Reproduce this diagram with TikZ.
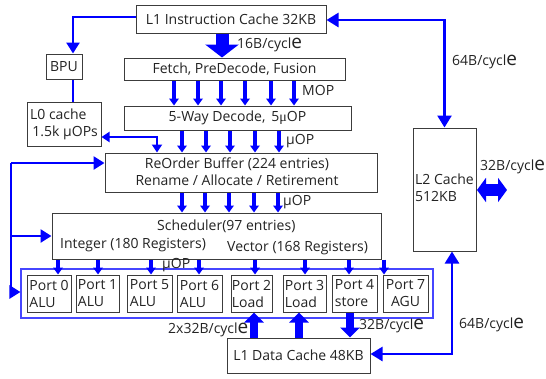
\documentclass[tikz,border=0pt]{standalone}
\usepackage{fontspec}
\setmainfont{Open Sans}
\newfontfamily\greekserif{Liberation Serif}
\usetikzlibrary{arrows.meta}
\definecolor{flowblue}{RGB}{0,0,255}
\definecolor{groupblue}{RGB}{70,70,255}
\definecolor{edge}{RGB}{60,60,60}
\definecolor{ink}{RGB}{35,35,35}
% "cycle" with its oversized final letter
\newcommand{\cycword}{cycl{\fontsize{19pt}{19pt}\selectfont e}}

\begin{document}
\begin{tikzpicture}[x=1pt,y=-1pt,
  font=\fontsize{14pt}{17pt}\selectfont, text=ink,
  box/.style={draw=edge, line width=1pt, fill=white, inner sep=0pt, align=center},
  portbox/.style={box, minimum width=#1, minimum height=37pt, align=left},
  groupbox/.style={draw=groupblue, line width=1.1pt, inner sep=0pt},
  lbl/.style={anchor=west, inner sep=0pt},
  conn/.style={draw=flowblue, line width=2.6pt},
  tipA/.style={-{Triangle[length=11pt,width=13pt]}},
  tipB/.style={{Triangle[length=12pt,width=14pt]}-{Triangle[length=12pt,width=14pt]}},
  tipC/.style={{Triangle[length=8pt,width=10pt]}-{Triangle[length=8pt,width=10pt]}},
  flow/.style={draw=flowblue, line width=3.2pt, -{Triangle[length=7pt,width=9.5pt]}},
  fatdown/.style={draw=flowblue, line width=13pt, -{Triangle[length=13pt,width=33pt]}},
  portfat/.style={draw=flowblue, line width=8pt, -{Triangle[length=10pt,width=19pt]}},
  fatdouble/.style={draw=flowblue, line width=12pt,
    {Triangle[length=9pt,width=24pt]}-{Triangle[length=9pt,width=24pt]}}]

\useasboundingbox (0,0) rectangle (546,378);

% front end
\node[box, minimum width=190pt, minimum height=28pt] (l1i) at (231,19) {L1 Instruction Cache 32KB};
\node[box, minimum width=221pt, minimum height=22pt] (fetch) at (234.5,69) {Fetch, PreDecode, Fusion};
\node[box, minimum width=227pt, minimum height=24pt] (decode) at (237.5,118) {5-Way Decode,\, 5{\greekserif μ}OP};
\node[box, minimum width=36pt, minimum height=25pt] (bpu) at (64,66.5) {BPU};
\node[box, minimum width=74pt, minimum height=44pt, align=left] (l0) at (64,124) {L0 cache\\\,1.5k µOPs};
\node[box, minimum width=272pt, minimum height=39pt] (rob) at (241,172.5) {};
\node[inner sep=0pt, align=center] (robtxt) at (237,172) {ReOrder Buffer (224 entries)\\Rename / Allocate / Retirement};

% scheduler
\node[box, minimum width=329pt, minimum height=46pt] (sched) at (216.5,236) {};
\node[lbl] (schedtxt) at (157,226) {Scheduler(97 entries)};
\node[lbl] (inttxt) at (60,245) {Integer (180 Registers)};
\node[lbl] (vectxt) at (227,248) {Vector (168 Registers)};

% execution ports
\node[groupbox, minimum width=412pt, minimum height=49pt] (group) at (227,293.5) {};
\node[portbox=44pt] (p0) at (49,293.5) {Port 0\\ALU};
\node[portbox=43pt] (p1) at (97.5,293.5) {Port 1\\ALU};
\node[portbox=45pt] (p5) at (149.5,293.5) {Port 5\\ALU};
\node[portbox=45pt] (p6) at (199.5,293.5) {Port 6\\ALU};
\node[portbox=41pt] (p2) at (251.5,293.5) {Port 2\\Load};
\node[portbox=43pt] (p3) at (304.5,293.5) {Port 3\\Load};
\node[portbox=45pt] (p4) at (354.5,293.5) {Port 4\\store};
\node[portbox=45pt, align=center] (p7) at (405.5,293.5) {Port 7\\AGU};

% caches
\node[box, minimum width=143pt, minimum height=35pt] (l1d) at (298.5,355.5) {L1 Data Cache 48KB};
\node[box, minimum width=63pt, minimum height=123pt] (l2) at (444.5,189.5) {};
\node[lbl, align=left] (l2txt) at (415,188) {L2 Cache\\512KB};

% instruction flow
\draw[fatdown] (222,0 |- l1i.south) -- (222,0 |- fetch.north);
\foreach \x in {174,198,221,245,271,294}
  \draw[flow] (\x,0 |- fetch.south) -- (\x,0 |- decode.north);
\foreach \x in {182,206,230,255,279}
  \draw[flow] (\x,0 |- decode.south) -- (\x,0 |- rob.north);
\foreach \x in {182,205,229,254,278}
  \draw[flow] (\x,0 |- rob.south) -- (\x,0 |- sched.north);
\foreach \x/\p in {58/p0,98/p1,151/p5,199/p6,255/p2,305/p3,349/p4,384/p7}
  \draw[flow] (\x,0 |- sched.south) -- (\x,0 |- \p.north);

% branch prediction and uop cache
\draw[conn, tipA] (l1i.west |- 0,17) -| (73,0 |- bpu.north);
\draw[conn] (73,0 |- bpu.south) -- (73,0 |- l0.north);
\draw[conn, tipC] (l0.east |- 0,137) -| (157,0 |- rob.north);

% feedback path
\coordinate (fbtop) at (11,163);
\coordinate (fbbot) at (11,292);
\draw[conn, tipA] (fbtop) -- (rob.west |- fbtop);
\draw[conn, tipA] (fbtop) -- (fbbot) -- (group.west |- fbbot);
\draw[conn, tipA] (11,0 |- sched.west) -- (sched.west);

% memory traffic
\draw[portfat] (254,0 |- l1d.north) -- (254,0 |- p2.south);
\draw[portfat] (299,0 |- l1d.north) -- (299,0 |- p3.south);
\draw[portfat] (350,0 |- p4.south) -- (350,0 |- l1d.north);
\draw[conn, tipB] (l1i.east |- 0,20) -| (l2.north);
\draw[conn, tipB] (452,0 |- l2.south) |- (l1d.east |- 0,354);
\draw[fatdouble] (477,190) -- (507,190);

% bandwidth labels
\node[lbl] (bw16) at (237,45) {16B/\cycword};
\node[lbl] (mop) at (302,90) {MOP};
\node[lbl] (uop1) at (286,141) {µOP};
\node[lbl] (uop2) at (283,202) {µOP};
\node[lbl] (uop3) at (162,265) {µOP};
\node[lbl] (bw64a) at (452,62) {64B/\cycword};
\node[lbl] (bw32a) at (480,167) {32B/\cycword};
\node[lbl] (bw64b) at (459,325) {64B/\cycword};
\node[lbl] (bw2x) at (168,330) {2x32B/\cycword};
\node[lbl] (bw32b) at (359,326) {32B/\cycword};
\end{tikzpicture}
\end{document}
